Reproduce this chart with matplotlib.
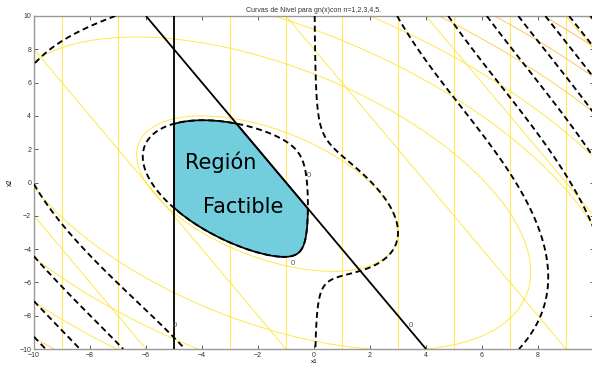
import numpy as np
import matplotlib
matplotlib.use('Agg')
import matplotlib.pyplot as plt

plt.rcParams['lines.dashed_pattern'] = [3.2, 2.0]
plt.rcParams['contour.negative_linestyle'] = 'solid'

# dominio y malla
lim_x = [-10, 10]
lim_y = [-10, 10]
n_malla = 600

# g1 = -x1 - 5
niveles_g1 = [-14, -12, -10, -8, -6, -4, -2, 0, 2, 4]
# g2 = 2 x1 + x2 + 2
coef_g2 = [2, 1, 2]
niveles_g2 = [-20, -10, 0, 10, 20, 30]
# g3 = x1^2 + x1 x2 + x2^2 + 4 x1 + 3 x2 - 12
coef_g3 = [1, 1, 1, 4, 3, -12]
niveles_g3 = [0, 50, 100, 150, 200, 250, 300, 350]
colores_g3 = ['#ffe52e', '#ffe52e', '#ffe52e', '#ffe52e',
              '#ffcb3f', '#ffbd48', '#ffb44a', '#ffab44']
# g4 = x1 * (g3 + 1) - 3
k_g4 = 1.0
desp_g4 = 3
niveles_g4 = [-2000, -1500, -1000, -500, 0, 500, 1000, 1500, 2000, 2500, 3000, 3500]

# etiquetas "0" de clabel
etiq_x = [-0.18, -0.75, -4.96, 3.46]
etiq_y = [0.45, -4.85, -8.6, -8.6]

amarillo = '#ffe52e'
cian = '#6acbdb'

x1 = np.linspace(lim_x[0], lim_x[1], n_malla)
x2 = np.linspace(lim_y[0], lim_y[1], n_malla)
X1, X2 = np.meshgrid(x1, x2)

g1 = -X1 - 5
g2 = coef_g2[0]*X1 + coef_g2[1]*X2 + coef_g2[2]
a, b, c, d, e, f = coef_g3
g3 = a*X1**2 + b*X1*X2 + c*X2**2 + d*X1 + e*X2 + f
g4 = X1*(g3 + k_g4) - desp_g4
region = np.maximum.reduce([g1, g2, g3, -g4])

fig = plt.figure(figsize=(5.92, 3.65), dpi=100)
ax = fig.add_axes([34/592, 16/365, 560/592, 333/365])

# curvas de nivel de g1, g2, g3
ax.contour(X1, X2, g1, levels=niveles_g1, colors=amarillo, linewidths=0.6,
           linestyles='solid', zorder=1)
ax.contour(X1, X2, g2, levels=niveles_g2, colors=amarillo, linewidths=0.6,
           linestyles='solid', zorder=1)
ax.contour(X1, X2, g3, levels=niveles_g3, colors=colores_g3, linewidths=0.6,
           linestyles='solid', zorder=1)

# region factible
ax.contourf(X1, X2, region, levels=[region.min() - 1, 0], colors=[cian], alpha=0.95, zorder=2)
ax.contour(X1, X2, region, levels=[0], colors='k', linewidths=1.2, zorder=3)

# g4 en negro discontinuo
ax.contour(X1, X2, g4, levels=niveles_g4, colors='k', linewidths=1.35,
           linestyles='--', zorder=4)

# restricciones lineales en g = 0
ax.contour(X1, X2, g1, levels=[0], colors='k', linewidths=1.3, zorder=5)
ax.contour(X1, X2, g2, levels=[0], colors='k', linewidths=1.3, zorder=5)

for xe, ye in zip(etiq_x, etiq_y):
    ax.text(xe, ye, '0', fontsize=5.5, color='#555555', ha='center', va='center',
            family='Liberation Sans', zorder=6)

ax.text(-3.32, 1.23, 'Región', fontsize=15, ha='center', va='center', zorder=6)
ax.text(-2.54, -1.47, 'Factible', fontsize=15, ha='center', va='center', zorder=6)

ax.set_xlim(lim_x)
ax.set_ylim(lim_y)
ax.set_xticks(np.arange(-10, 9, 2))
ax.set_yticks(np.arange(-10, 11, 2))
ax.tick_params(direction='in', top=True, right=True, length=3, width=0.6,
               color='#444444', labelsize=5, labelcolor='#333333', pad=2)
for lab in ax.get_xticklabels() + ax.get_yticklabels():
    lab.set_family('Liberation Sans')
for sp in ax.spines.values():
    sp.set_color('#999999')
    sp.set_linewidth(1.0)

ax.set_title('Curvas de Nivel para gn(x)con n=1,2,3,4,5.', fontsize=5,
             family='Liberation Sans', color='#333333', pad=3)
ax.set_xlabel('x1', fontsize=4.5, family='Liberation Sans', labelpad=0.5)
ax.set_ylabel('x2', fontsize=5, family='Liberation Sans', labelpad=4)

fig.savefig('out.png', dpi=100)
